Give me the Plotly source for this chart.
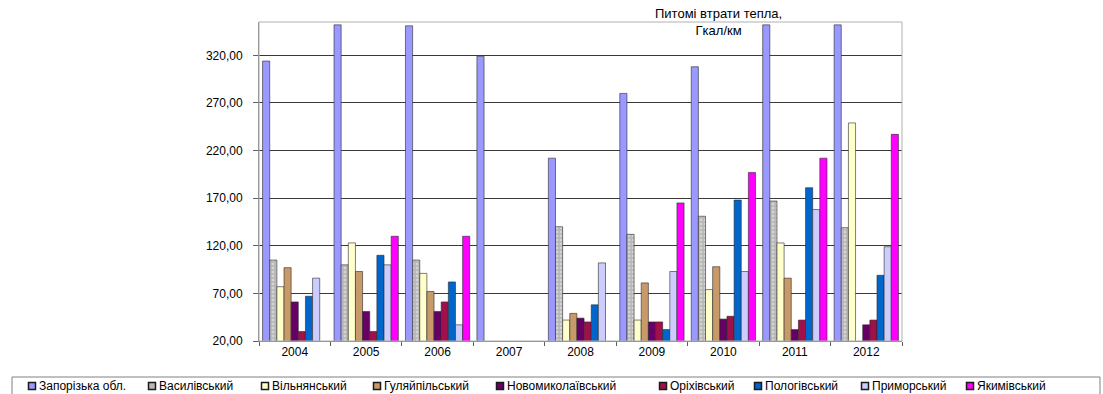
import plotly.graph_objects as go

years = ["2004", "2005", "2006", "2007", "2008", "2009", "2010", "2011", "2012"]

zaporizka = [314, 352, 351, 319, 212, 280, 308, 352, 352]
vasylivskyi = [105, 100, 105, None, 140, 132, 151, 167, 139]
vilnianskyi = [77, 123, 91, None, 42, 42, 74, 123, 249]
huliaipilskyi = [97, 93, 72, None, 49, 81, 98, 86, None]
novomykolaivskyi = [61, 51, 51, None, 44, 40, 43, 32, 37]
orikhivskyi = [30, 30, 61, None, 40, 40, 46, 42, 42]
polohivskyi = [67, 110, 82, None, 58, 32, 168, 181, 89]
prymorskyi = [86, 100, 37, None, 102, 93, 93, 158, 119]
yakymivskyi = [None, 130, 130, None, None, 165, 197, 212, 237]

series_names = ["Запорізька обл.", "Василівський", "Вільнянський", "Гуляйпільський",
                "Новомиколаївський", "Оріхівський", "Пологівський", "Приморський",
                "Якимівський"]
series_values = [zaporizka, vasylivskyi, vilnianskyi, huliaipilskyi, novomykolaivskyi,
                 orikhivskyi, polohivskyi, prymorskyi, yakymivskyi]
series_colors = ["#9999FF", "#B8B8B8", "#FFFFCC", "#C89A6A", "#660066",
                 "#A0104A", "#0066CC", "#CCCCFF", "#FF00FF"]

y_ticks = [20, 70, 120, 170, 220, 270, 320]
y_tick_text = ["20,00", "70,00", "120,00", "170,00", "220,00", "270,00", "320,00"]

# pixel x of each legend key (legend row sits under the plot)
legend_key_x = [32, 152, 265, 377, 500, 663, 758, 865, 970]

fig = go.Figure()
for name, vals, col in zip(series_names, series_values, series_colors):
    marker = dict(color=col, line=dict(color="#2a2a2a", width=0.6))
    if name == "Василівський":
        marker["pattern"] = dict(shape=".", fgcolor="#F2F2F2", bgcolor=col, size=4, solidity=0.3)
    fig.add_trace(go.Bar(x=years, y=vals, name=name, marker=marker, showlegend=False))

W, H = 1103, 394
L, R, T, B = 259, 902, 22, 341
pw, ph = R - L, B - T

def px_x(x):
    return (x - L) / pw

def px_y(y):
    return (B - y) / ph

shapes = [
    dict(type="rect", xref="paper", yref="paper",
         x0=0, x1=1, y0=0, y1=1, line=dict(color="#B0B0B0", width=1)),
    dict(type="rect", xref="paper", yref="paper",
         x0=px_x(12), x1=px_x(1100), y0=px_y(377), y1=px_y(398),
         line=dict(color="#808080", width=1), fillcolor="rgba(0,0,0,0)"),
]
annotations = [
    dict(text="Питомі втрати тепла,<br>Гкал/км", xref="paper", yref="paper",
         x=px_x(718), y=px_y(22), xanchor="center", yanchor="middle",
         showarrow=False, align="center", font=dict(size=13)),
]

ly = 386
for kx, name, col in zip(legend_key_x, series_names, series_colors):
    shapes.append(dict(type="rect", xref="paper", yref="paper",
                       x0=px_x(kx - 3.5), x1=px_x(kx + 3.5),
                       y0=px_y(ly + 3.5), y1=px_y(ly - 3.5),
                       fillcolor=col, line=dict(color="#1a1a1a", width=1.5)))
    annotations.append(dict(text=name, xref="paper", yref="paper",
                            x=px_x(kx + 5), y=px_y(ly), xanchor="left", yanchor="middle",
                            showarrow=False, font=dict(size=12)))

fig.update_layout(
    width=W, height=H,
    margin=dict(l=L, r=W - R, t=T, b=H - B, autoexpand=False),
    paper_bgcolor="white", plot_bgcolor="white",
    barmode="group", bargap=0.1, bargroupgap=0.0,
    font=dict(family="Liberation Sans, Arial, sans-serif", size=11, color="black"),
    showlegend=False,
    xaxis=dict(
        type="category", showgrid=False, showline=True, linecolor="#808080", linewidth=1,
        ticks="outside", tickson="boundaries", ticklen=4, tickcolor="#606060",
        tickfont=dict(size=12),
    ),
    yaxis=dict(
        range=[20, 355], tickmode="array", tickvals=y_ticks, ticktext=y_tick_text,
        showgrid=True, gridcolor="#3a3a3a", gridwidth=1.2, zeroline=False,
        showline=True, linecolor="#808080", linewidth=1,
        ticks="outside", ticklen=5, tickcolor="#606060", tickfont=dict(size=12),
        ticklabelstandoff=8,
    ),
    shapes=shapes,
    annotations=annotations,
)

fig.write_html("out.html")
